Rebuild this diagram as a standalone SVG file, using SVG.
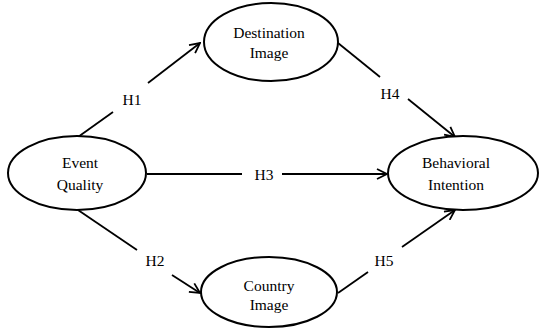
<svg xmlns="http://www.w3.org/2000/svg" width="542" height="329" viewBox="0 0 542 329">
<style>
.node{fill:#fff;stroke:#000;stroke-width:2}
text{font-family:'Liberation Serif','Times New Roman',Tinos,'DejaVu Serif',serif;font-size:15.5px;fill:#000;text-anchor:middle}
.c{stroke:#000;stroke-width:1.8;fill:none}
</style>
<defs>
<marker id="ah" viewBox="0 0 12 12" refX="11" refY="6" markerWidth="12" markerHeight="12" markerUnits="userSpaceOnUse" orient="auto">
<path d="M1,1 L11,6 L1,11" fill="none" stroke="#000" stroke-width="1.8"/>
</marker>
</defs>
<rect width="542" height="329" fill="#fff"/>
<g id="connectors">
<line class="c" x1="78" y1="137" x2="113" y2="112"/>
<line class="c" x1="148" y1="83" x2="200" y2="43" marker-end="url(#ah)"/>
<line class="c" x1="338" y1="43" x2="380" y2="77"/>
<line class="c" x1="408" y1="99" x2="455" y2="137" marker-end="url(#ah)"/>
<line class="c" x1="147" y1="174" x2="242" y2="174"/>
<line class="c" x1="282" y1="174" x2="387" y2="174" marker-end="url(#ah)"/>
<line class="c" x1="78" y1="210" x2="137" y2="250"/>
<line class="c" x1="172" y1="275" x2="200" y2="293" marker-end="url(#ah)"/>
<line class="c" x1="338" y1="293" x2="368" y2="272"/>
<line class="c" x1="402" y1="247" x2="455" y2="210" marker-end="url(#ah)"/>
<text x="132" y="105">H1</text>
<text x="390" y="99">H4</text>
<text x="264" y="180">H3</text>
<text x="155" y="266">H2</text>
<text x="384" y="266">H5</text>
</g>
<g id="destination-image">
<ellipse class="node" cx="271" cy="42" rx="67" ry="39"/>
<text x="269" y="38">Destination</text>
<text x="269" y="58">Image</text>
</g>
<g id="event-quality">
<ellipse class="node" cx="77" cy="173" rx="69" ry="37"/>
<text x="80" y="168">Event</text>
<text x="80" y="190">Quality</text>
</g>
<g id="behavioral-intention">
<ellipse class="node" cx="463" cy="173" rx="75" ry="37"/>
<text x="456" y="168">Behavioral</text>
<text x="456" y="190">Intention</text>
</g>
<g id="country-image">
<ellipse class="node" cx="269" cy="292" rx="68" ry="35"/>
<text x="269" y="291">Country</text>
<text x="269" y="310">Image</text>
</g>
</svg>
